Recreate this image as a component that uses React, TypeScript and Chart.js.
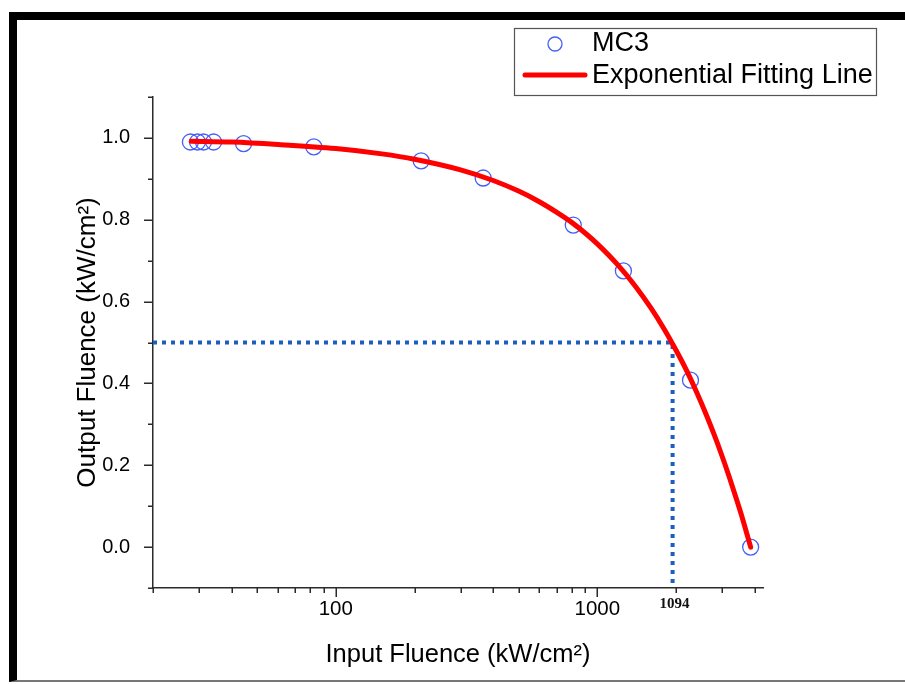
import React, { useEffect, useRef } from "react";
import { Chart, registerables } from "chart.js";

Chart.register(...registerables);

// ---- data ----
const inputFluence = [27.8, 29.6, 31.2, 34.1, 44.4, 82.4, 212, 366, 809, 1258, 2271, 3857];
const outputFluence = [0.99, 0.99, 0.99, 0.99, 0.986, 0.978, 0.944, 0.902, 0.787, 0.675, 0.408, 0.0];

const fitX = [28, 40, 60, 100, 150, 200, 300, 400, 500, 600, 700, 800, 900, 1000, 1200, 1400, 1600, 1800, 2000, 2200, 2400, 2600, 2800, 3000, 3200, 3400, 3600, 3857];
const fitY = [0.992, 0.99, 0.984, 0.974, 0.961, 0.948, 0.922, 0.896, 0.87, 0.844, 0.818, 0.793, 0.767, 0.741, 0.689, 0.637, 0.585, 0.533, 0.481, 0.43, 0.378, 0.326, 0.274, 0.222, 0.17, 0.118, 0.067, 0.0];

const cutoffX = 1940;
const cutoffY = 0.5;
const cutoffLabel = "1094";

const xTickValues = [20, 30, 40, 50, 60, 70, 80, 90, 100, 200, 300, 400, 500, 600, 700, 800, 900, 1000, 2000, 3000, 4000];
const xLabelValues = [100, 1000];
const yTickValues = [-0.1, 0, 0.1, 0.2, 0.3, 0.4, 0.5, 0.6, 0.7, 0.8, 0.9, 1.0, 1.1];
const yLabelValues = [0, 0.2, 0.4, 0.6, 0.8, 1.0];

const seriesName = "MC3";
const fitName = "Exponential Fitting Line";
const xTitle = "Input Fluence (kW/cm\u00B2)";
const yTitle = "Output Fluence (kW/cm\u00B2)";

const FONT = '"Liberation Sans", Arial, sans-serif';
const AXIS = "#2a2a2a";
const BLUE_PT = "rgb(70, 95, 245)";
const RED = "#ff0000";
const DOT_BLUE = "#1a5fbf";

const near = (a: number, b: number) => Math.abs(a - b) < 1e-6 * Math.max(1, Math.abs(b));

const decor = {
  id: "decor",
  afterDraw(chart: any) {
    const { ctx, chartArea } = chart;
    const x = chart.scales.x;
    const y = chart.scales.y;
    ctx.save();
    ctx.strokeStyle = AXIS;
    ctx.lineWidth = 1.5;
    ctx.beginPath();
    yTickValues.forEach((v) => {
      const py = Math.round(y.getPixelForValue(v)) + 0.25;
      const len = yLabelValues.some((l) => near(l, v)) ? 9 : 5;
      ctx.moveTo(chartArea.left - len, py);
      ctx.lineTo(chartArea.left, py);
    });
    xTickValues.forEach((v) => {
      const px = Math.round(x.getPixelForValue(v)) + 0.25;
      const len = xLabelValues.some((l) => near(l, v)) ? 9 : 5;
      ctx.moveTo(px, chartArea.bottom);
      ctx.lineTo(px, chartArea.bottom + len);
    });
    ctx.stroke();

    // cutoff label under the axis
    ctx.font = 'bold 15px "Liberation Serif", serif';
    ctx.fillStyle = "#111";
    ctx.textAlign = "center";
    ctx.textBaseline = "middle";
    ctx.fillText(cutoffLabel, x.getPixelForValue(cutoffX) + 2, chartArea.bottom + 16);

    // legend box
    const lx = 514, ly = 28, lw = 362, lh = 67;
    ctx.strokeStyle = "#555";
    ctx.lineWidth = 1.2;
    ctx.strokeRect(lx + 0.5, ly + 0.5, lw, lh);
    ctx.strokeStyle = BLUE_PT;
    ctx.lineWidth = 1.3;
    ctx.beginPath();
    ctx.arc(555, 44, 7, 0, Math.PI * 2);
    ctx.stroke();
    ctx.strokeStyle = RED;
    ctx.lineWidth = 5;
    ctx.lineCap = "round";
    ctx.beginPath();
    ctx.moveTo(525, 75);
    ctx.lineTo(585, 75);
    ctx.stroke();
    ctx.fillStyle = "#000";
    ctx.font = "27px " + FONT;
    ctx.textAlign = "left";
    ctx.textBaseline = "middle";
    ctx.fillText(seriesName, 592, 44);
    ctx.fillText(fitName, 592, 76);
    ctx.restore();
  },
};

export default function App() {
  const ref = useRef<HTMLCanvasElement | null>(null);

  useEffect(() => {
    if (!ref.current) return;
    const chart = new Chart(ref.current, {
      type: "scatter",
      data: {
        datasets: [
          {
            label: fitName,
            data: fitX.map((v, i) => ({ x: v, y: fitY[i] })),
            showLine: true,
            borderColor: RED,
            borderWidth: 5,
            pointRadius: 0,
            cubicInterpolationMode: "monotone",
            borderCapStyle: "round",
          } as any,
          {
            label: seriesName,
            data: inputFluence.map((v, i) => ({ x: v, y: outputFluence[i] })),
            showLine: false,
            pointStyle: "circle",
            pointRadius: 8,
            borderColor: BLUE_PT,
            backgroundColor: "rgba(0,0,0,0)",
            borderWidth: 1.3,
          },
          {
            label: "cutoff",
            data: [
              { x: 20, y: cutoffY },
              { x: cutoffX, y: cutoffY },
              { x: cutoffX, y: -0.1 },
            ],
            showLine: true,
            borderColor: DOT_BLUE,
            borderWidth: 4,
            borderDash: [4, 5],
            pointRadius: 0,
            borderCapStyle: "butt",
          } as any,
        ],
      },
      options: {
        animation: false,
        responsive: false,
        devicePixelRatio: 1,
        layout: { padding: { left: 0, right: 142, top: 97, bottom: 0 } },
        plugins: { legend: { display: false }, tooltip: { enabled: false } },
        scales: {
          x: {
            type: "logarithmic",
            min: 20,
            max: 4300,
            afterFit: (s: any) => {
              s.height = 96;
            },
            grid: { display: false },
            border: { display: true, color: AXIS, width: 1.5 },
            ticks: {
              autoSkip: false,
              maxRotation: 0,
              minRotation: 0,
              padding: 1,
              color: "#000",
              font: { family: FONT, size: 20.5 },
              callback: (v: any) => {
                const n = Number(v);
                return xLabelValues.some((l) => near(l, n)) ? String(Math.round(n)) : "";
              },
            },
            title: {
              display: true,
              text: xTitle,
              color: "#000",
              font: { family: FONT, size: 25.5 },
              padding: { top: 0, bottom: 14 },
            },
          },
          y: {
            type: "linear",
            min: -0.1,
            max: 1.1,
            afterFit: (s: any) => {
              s.width = 153;
            },
            grid: { display: false },
            border: { display: true, color: AXIS, width: 1.5 },
            ticks: {
              stepSize: 0.1,
              autoSkip: false,
              padding: 15,
              color: "#000",
              font: { family: FONT, size: 20 },
              callback: (v: any) => {
                const n = Number(v);
                return yLabelValues.some((l) => near(l, n)) ? n.toFixed(1) : "";
              },
            },
            title: {
              display: true,
              text: yTitle,
              color: "#000",
              font: { family: FONT, size: 26 },
              padding: { top: 72, bottom: 0 },
            },
          },
        },
      },
      plugins: [decor],
    });
    return () => chart.destroy();
  }, []);

  return (
    <div style={{ position: "fixed", left: 0, top: 0, width: 905, height: 684, overflow: "hidden", background: "#fff" }}>
      <div
        style={{
          position: "absolute",
          left: 9,
          top: 12,
          width: 920,
          height: 670,
          boxSizing: "border-box",
          borderTop: "8px solid #000",
          borderLeft: "8px solid #000",
          borderBottom: "2px solid #777",
        }}
      />
      <canvas ref={ref} width={905} height={684} style={{ position: "absolute", left: 0, top: 0, width: 905, height: 684 }} />
    </div>
  );
}
